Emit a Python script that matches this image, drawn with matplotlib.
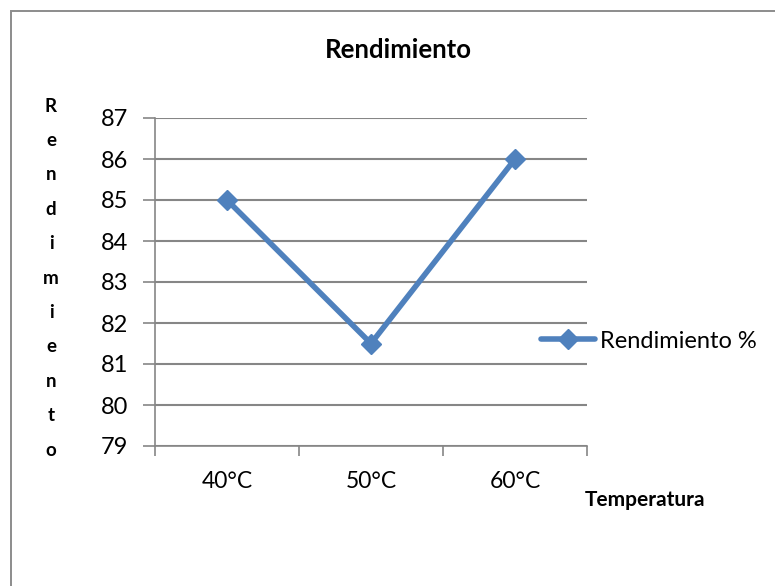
import matplotlib
matplotlib.use('Agg')
import matplotlib.pyplot as plt
from matplotlib.patches import Rectangle

plt.rcParams['font.family'] = ['Lato', 'DejaVu Sans']

# datos
temperaturas = ['40°C', '50°C', '60°C']
rendimiento = [85.0, 81.5, 86.0]
y_ticks = [79, 80, 81, 82, 83, 84, 85, 86, 87]

azul = '#4F81BD'
gris = '#868686'

fig = plt.figure(figsize=(7.75, 5.86), dpi=100)
ax = fig.add_axes([155/775, 1 - 446/586, (587-155)/775, (446-118)/586])

# borde del grafico (se sale por la derecha y abajo)
fig.patches.append(Rectangle((10.5/775, -0.05), 1.0, 1 - 10.5/586 + 0.05,
                             transform=fig.transFigure, fill=False,
                             edgecolor='#8c8c8c', linewidth=1.4))

x = range(len(temperaturas))
ax.plot(x, rendimiento, color=azul, linewidth=4, marker='D', markersize=10,
        label='Rendimiento %', solid_capstyle='round')

ax.set_xlim(-0.5, 2.5)
ax.set_ylim(79, 87)
ax.set_yticks(y_ticks)
ax.set_yticklabels([str(v) for v in y_ticks], fontsize=17)
ax.set_xticks(list(x))
ax.set_xticklabels(temperaturas, fontsize=16.5)
ax.tick_params(axis='x', which='major', length=0, pad=18)
ax.set_xticks([-0.5, 0.5, 1.5, 2.5], minor=True)
ax.tick_params(axis='x', which='minor', length=7, width=1.2, color=gris, direction='out')
ax.tick_params(axis='y', length=9, width=1.2, color=gris, pad=10)

ax.grid(axis='y', color=gris, linewidth=1.5)
ax.set_axisbelow(True)
for s in ['top', 'right']:
    ax.spines[s].set_visible(False)
for s in ['left', 'bottom']:
    ax.spines[s].set_color(gris)
    ax.spines[s].set_linewidth(1.2)

# titulo
fig.text(398/775, 1 - 50/586, 'Rendimiento', ha='center', va='center',
         fontsize=18.5, fontweight='bold')

# titulo eje y (letras apiladas)
letras = list('Rendimiento')
for i, c in enumerate(letras):
    y = 106 + i * (450 - 106) / (len(letras) - 1)
    fig.text(51/775, 1 - y/586, c, ha='center', va='center',
             fontsize=13.5, fontweight='bold')

# titulo eje x
fig.text(645/775, 1 - 500/586, 'Temperatura', ha='center', va='center',
         fontsize=15, fontweight='bold')

# leyenda
fig.legend(loc='center left', bbox_to_anchor=(541/775, 1 - 341/586),
           frameon=False, fontsize=17, handlelength=2.3, handletextpad=0.2,
           borderaxespad=0, borderpad=0)

fig.savefig('out.png', dpi=100)
